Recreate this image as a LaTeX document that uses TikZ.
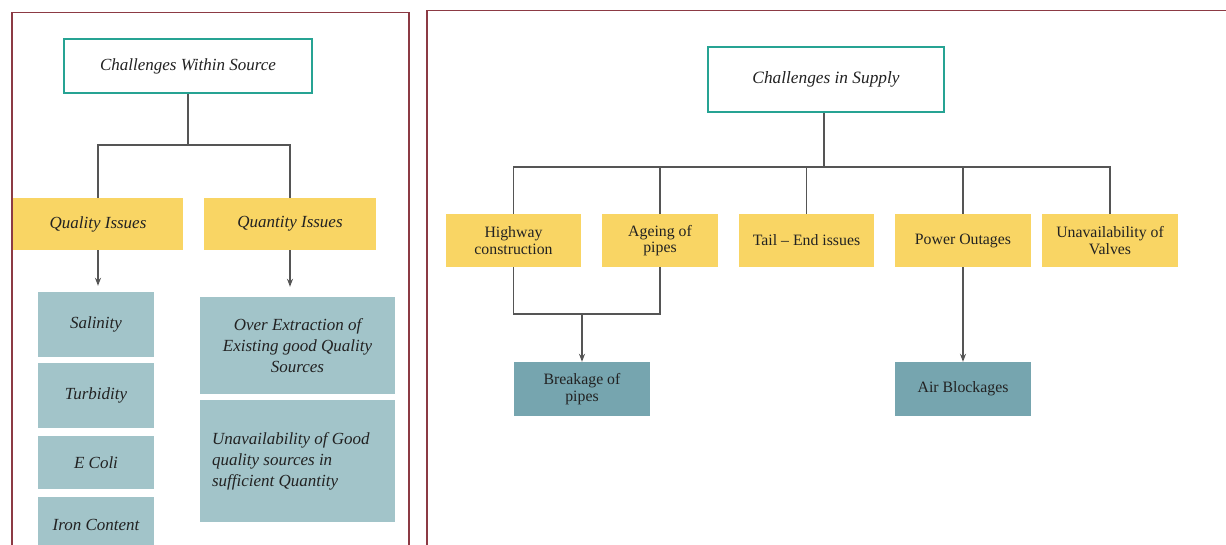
\documentclass[tikz,border=0pt]{standalone}
\usepackage{fontspec}
\setmainfont{Liberation Serif}
\usetikzlibrary{arrows.meta}
\definecolor{frameclr}{HTML}{8C3A44}
\definecolor{headclr}{HTML}{26A393}
\definecolor{yellowbox}{HTML}{F9D564}
\definecolor{paleteal}{HTML}{A2C4C9}
\definecolor{deepteal}{HTML}{76A5AF}
\definecolor{linkclr}{HTML}{555555}
\definecolor{inkclr}{HTML}{222222}
\tikzset{
  panel/.style={draw=frameclr, line width=1.3pt},
  headbox/.style={draw=headclr, line width=2.6pt, fill=white, text=inkclr, inner sep=0pt},
  catbox/.style={fill=yellowbox, text=inkclr, inner sep=0pt, align=center},
  leafbox/.style={fill=paleteal, text=inkclr, inner sep=0pt, align=center},
  endbox/.style={fill=deepteal, text=inkclr, inner sep=0pt, align=center},
  link/.style={draw=linkclr, line width=1.1pt},
  arrowlink/.style={link, -{Stealth[length=8pt,width=6pt]}},
  ital/.style={font=\fontsize{17}{21}\selectfont\itshape},
  plain/.style={font=\fontsize{15.8}{16.5}\selectfont},
}
\begin{document}
\begin{tikzpicture}[x=1pt,y=-1pt]
\useasboundingbox (0,0) rectangle (1226,545);
\fill[white] (0,0) rectangle (1226,545);

% panel frames (open at the bottom)
\draw[panel] (12,560) -- (12,12.7) -- (409,12.7) -- (409,560);
\draw[panel] (427,560) -- (427,10.7) -- (1240,10.7);

% ---- sources panel ----
\node[headbox, minimum width=248pt, minimum height=54pt, font=\fontsize{17}{20}\selectfont\itshape]
  (srcHead) at (188,66) {Challenges Within Source};
\node[catbox, ital, minimum width=170pt, minimum height=52pt] (quality) at (98,224) {Quality Issues};
\node[catbox, ital, minimum width=172pt, minimum height=52pt] (quantity) at (290,224) {Quantity Issues};

\node[leafbox, ital, minimum width=116pt, minimum height=65pt] (salinity) at (96,324.5) {Salinity};
\node[leafbox, ital, minimum width=116pt, minimum height=65pt] (turbidity) at (96,395.5) {Turbidity};
\node[leafbox, ital, minimum width=116pt, minimum height=53pt] (ecoli) at (96,462.5) {E Coli};
\node[leafbox, ital, minimum width=116pt, minimum height=56pt] (iron) at (96,525) {Iron Content};

\node[leafbox, ital, minimum width=195pt, minimum height=97pt] (overext) at (297.5,345.5)
  {Over Extraction of\\Existing good Quality\\Sources};
\node[leafbox, ital, minimum width=195pt, minimum height=122pt, text width=171pt, align=flush left]
  (goodsrc) at (297.5,461) {Unavailability of Good\\quality sources in\\sufficient Quantity};

\coordinate (srcJoin) at (188,145);
\draw[link] (srcHead.south) -- (srcJoin);
\draw[link] (srcJoin) -| (quality.north);
\draw[link] (srcJoin) -| (quantity.north);
\draw[arrowlink, shorten >=6pt] (quality.south) -- (quality.south |- salinity.north);
\draw[arrowlink, shorten >=10pt] (quantity.south) -- (quantity.south |- overext.north);

% ---- supply panel ----
\node[headbox, minimum width=236pt, minimum height=65pt, font=\fontsize{17.3}{20}\selectfont\itshape]
  (supHead) at (826,79.5) {Challenges in Supply};

\node[catbox, plain, minimum width=135pt, minimum height=53pt] (highway) at (513.5,240.5) {Highway\\construction};
\node[catbox, plain, minimum width=116pt, minimum height=53pt] (ageing) at (660,240.5) {Ageing of\\pipes};
\node[catbox, plain, minimum width=135pt, minimum height=53pt] (tailend) at (806.5,240.5) {Tail -- End issues};
\node[catbox, plain, minimum width=136pt, minimum height=53pt] (power) at (963,240.5) {Power Outages};
\node[catbox, plain, minimum width=136pt, minimum height=53pt] (valves) at (1110,240.5) {Unavailability of\\Valves};

\node[endbox, plain, minimum width=136pt, minimum height=54pt] (breakage) at (582,389) {Breakage of\\pipes};
\node[endbox, plain, minimum width=136pt, minimum height=54pt] (airblock) at (963,389) {Air Blockages};

\coordinate (supJoin) at (824,167);
\draw[link] (supHead.south -| supJoin) -- (supJoin);
\draw[link] (supJoin) -| (highway.north);
\draw[link] (supJoin) -| (ageing.north);
\draw[link] (supJoin) -| (tailend.north);
\draw[link] (supJoin) -| (power.north);
\draw[link] (supJoin) -| (valves.north);

\coordinate (pipeJoin) at (582,314);
\draw[link] (highway.south) |- (pipeJoin);
\draw[link] (ageing.south) |- (pipeJoin);
\draw[arrowlink] (pipeJoin) -- (breakage.north);
\draw[arrowlink] (power.south) -- (airblock.north);
\end{tikzpicture}
\end{document}
